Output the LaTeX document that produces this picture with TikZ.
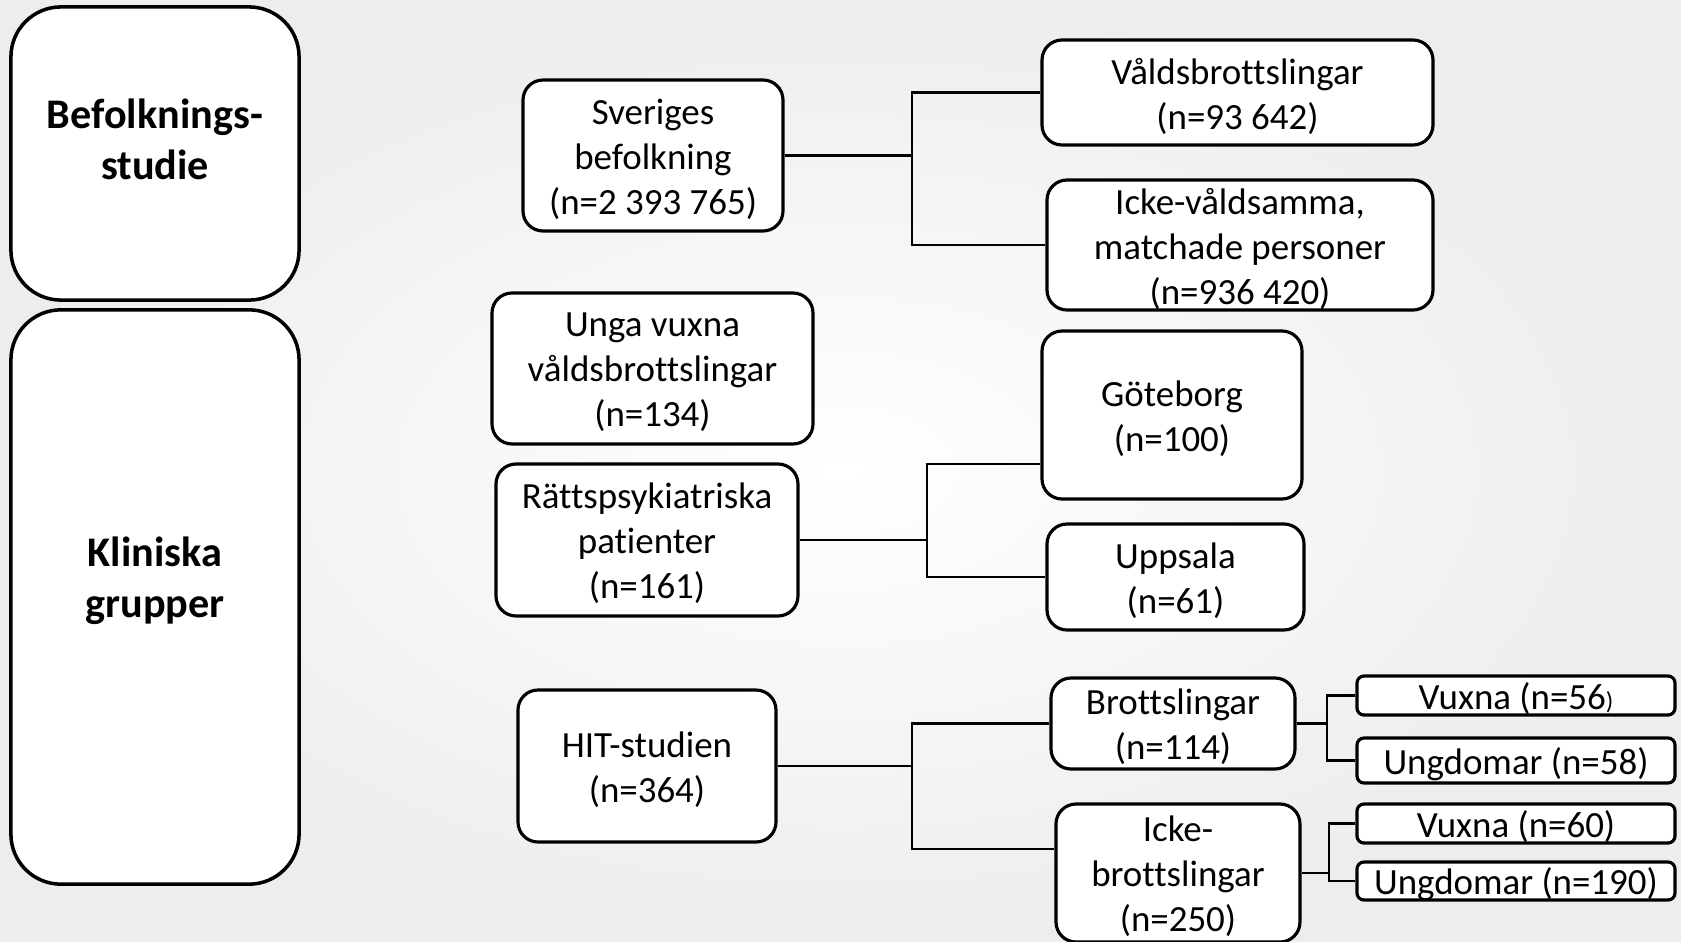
\documentclass[tikz,border=0pt]{standalone}
\usepackage{fontspec}
\setmainfont[Ligatures=NoCommon]{Carlito}
\usetikzlibrary{arrows.meta}
\tikzset{
  grp/.style={draw, line width=1pt, rounded corners=0.5cm, fill=white, inner sep=0pt},
  grptext/.style={font=\fontsize{12}{14.5}\selectfont\bfseries, align=center},
  box/.style={draw, line width=0.9pt, rounded corners=0.2cm, fill=white, inner sep=0pt},
  sbox/.style={box, rounded corners=0.07cm},
  boxtext/.style={align=center, inner sep=0pt, font=\fontsize{10.5}{12.8}\selectfont},
  link/.style={line width=0.8pt}
}
% \bx[style]{name}{x}{y}{width}{height}{text}, all in pixels of the slide
\newcommand{\bx}[7][box]{%
  \node[#1, minimum width={#5*0.01cm}, minimum height={#6*0.01cm}] (#2) at (#3,#4) {};
  \node[boxtext] (#2-t) at (#3,#4+3.5) {#7};}
% \fork{source}{x of junction}{upper end}{lower end}
\newcommand{\fork}[4]{%
  \coordinate (#1-j) at (#2,0 |- #1.east);
  \draw[link] (#1.east) -- (#1-j);
  \draw[link] (#3) -| (#1-j) |- (#4);}

\begin{document}
\begin{tikzpicture}[x=0.01cm, y=-0.01cm]
  \useasboundingbox (0,0) rectangle (1681,942);
  \shade[inner color=white, outer color=gray!14] (0,0) rectangle (1681,942);
  % left column
  \node[grp, minimum width=2.88cm, minimum height=2.93cm] (befolk) at (155,153.5) {};
  \node[grp, minimum width=2.88cm, minimum height=5.74cm] (klin) at (155,597) {};
  \node[grptext] (befolktxt) at (155,139) {Befolknings-\\studie};
  \node[grptext] (klintxt) at (155,581) {Kliniska\\grupper};
  % population study
  \bx{sverige}{653}{155.5}{260}{151}{Sveriges\\befolkning\\(n=2 393 765)}
  \bx{vald}{1237.5}{92.5}{391}{105}{Våldsbrottslingar\\(n=93 642)}
  \bx{ickevald}{1240}{245}{386}{130}{Icke-våldsamma,\\matchade personer\\(n=936 420)}
  % clinical groups
  \bx{unga}{652.5}{368.5}{321}{151}{Unga vuxna\\våldsbrottslingar\\(n=134)}
  \bx{ratt}{647}{540}{302}{152}{Rättspsykiatriska\\patienter\\(n=161)}
  \bx{gbg}{1172}{415}{260}{168}{Göteborg\\(n=100)}
  \bx{upps}{1175.5}{577}{257}{106}{Uppsala\\(n=61)}
  \bx{hit}{647}{766}{258}{152}{HIT-studien\\(n=364)}
  \bx{brott}{1173}{723.5}{244}{91}{Brottslingar\\(n=114)}
  \bx{ickebrott}{1178}{873}{244}{138}{Icke-\\brottslingar\\(n=250)}
  \bx[sbox]{vux1}{1516}{695.5}{318}{39}{Vuxna (n=56{\scriptsize)}}
  \bx[sbox]{ung1}{1516}{760.5}{318}{45}{Ungdomar (n=58)}
  \bx[sbox]{vux2}{1516}{823.5}{318}{39}{Vuxna (n=60)}
  \bx[sbox]{ung2}{1516}{881}{318}{38}{Ungdomar (n=190)}
  % connectors
  \coordinate (gbg-in) at (gbg.west |- 0,464);
  \coordinate (ickebrott-in) at (ickebrott.west |- 0,849);
  \fork{sverige}{912}{vald.west}{ickevald.west}
  \fork{ratt}{927}{gbg-in}{upps.west}
  \fork{hit}{912}{brott.west}{ickebrott-in}
  \fork{brott}{1327}{vux1.west}{ung1.west}
  \fork{ickebrott}{1329}{vux2.west}{ung2.west}
\end{tikzpicture}
\end{document}
